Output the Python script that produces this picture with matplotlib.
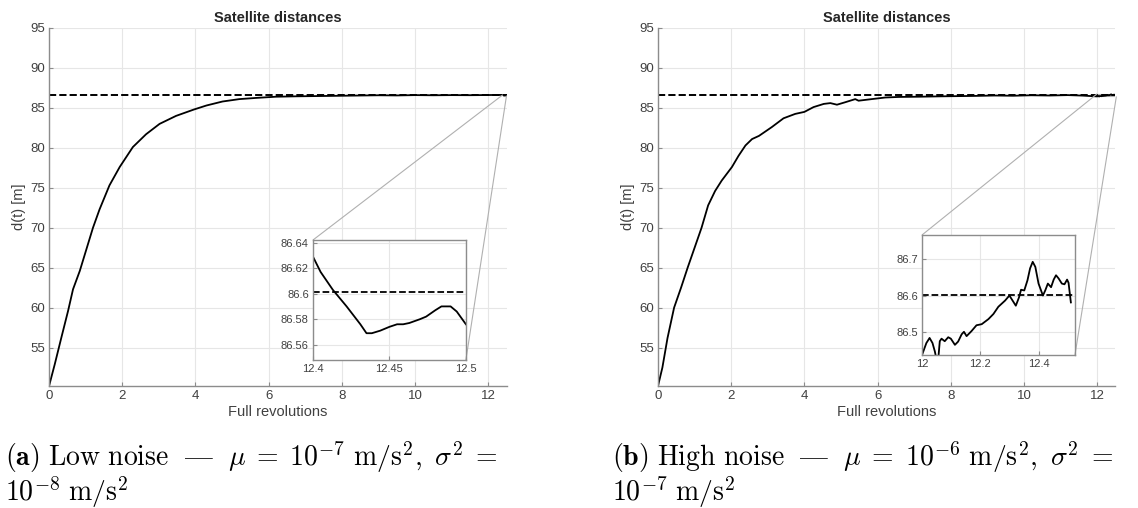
import numpy as np
import matplotlib
matplotlib.use('Agg')
import matplotlib.pyplot as plt
from matplotlib.ticker import FuncFormatter
from mpl_toolkits.axes_grid1.inset_locator import mark_inset

plt.rcParams['font.family'] = ['Liberation Sans', 'DejaVu Sans']
plt.rcParams['mathtext.fontset'] = 'cm'

# reference (true) distance
d_ref = 86.601

# low noise run: coarse trace + the zoomed tail
rev_low = [0, 0.155, 0.336, 0.52, 0.655, 0.84, 1.02, 1.2, 1.38, 1.65, 1.93,
           2.29, 2.65, 3.02, 3.47, 3.96, 4.3, 4.74, 5.2, 5.66, 6.2, 6.75,
           7.66, 8.5, 9.0, 9.5, 10.0, 10.5, 11.0, 11.5, 12.0]
dist_low = [50.2, 52.9, 56.25, 59.6, 62.3, 64.6, 67.3, 70.0, 72.3, 75.3, 77.6,
            80.1, 81.7, 83.0, 84.0, 84.8, 85.3, 85.8, 86.1, 86.25, 86.4, 86.45,
            86.5, 86.55, 86.58, 86.56, 86.6, 86.58, 86.6, 86.59, 86.61]
rev_low_zoom = [12.400, 12.405, 12.413, 12.422, 12.431, 12.435, 12.4385,
                12.444, 12.450, 12.455, 12.459, 12.463, 12.470, 12.474,
                12.480, 12.484, 12.490, 12.494, 12.500]
dist_low_zoom = [86.629, 86.617, 86.603, 86.590, 86.576, 86.569, 86.569,
                 86.571, 86.574, 86.576, 86.576, 86.577, 86.580, 86.582,
                 86.587, 86.590, 86.590, 86.586, 86.576]

# high noise run
rev_high = [0, 0.12, 0.26, 0.44, 0.63, 0.81, 1.0, 1.19, 1.37, 1.56, 1.74,
            2.02, 2.2, 2.39, 2.57, 2.76, 3.11, 3.43, 3.75, 4.0, 4.25, 4.53,
            4.71, 4.89, 5.11, 5.39, 5.48, 5.84, 6.21, 6.57, 7.12, 7.76, 8.67,
            9.2, 9.7, 10.2, 10.7, 11.2, 11.6]
dist_high = [50.2, 52.5, 56.2, 60.0, 62.5, 65.0, 67.5, 70.0, 72.8, 74.6, 75.9,
             77.6, 79.0, 80.3, 81.1, 81.5, 82.6, 83.7, 84.25, 84.5, 85.1, 85.5,
             85.6, 85.4, 85.7, 86.1, 85.9, 86.1, 86.3, 86.37, 86.4, 86.45, 86.5,
             86.55, 86.52, 86.58, 86.55, 86.6, 86.54]
rev_high_zoom = [12.000, 12.015, 12.026, 12.036, 12.044, 12.049, 12.056,
                 12.061, 12.067, 12.078, 12.090, 12.099, 12.113, 12.124,
                 12.136, 12.144, 12.153, 12.170, 12.187, 12.205, 12.228,
                 12.245, 12.262, 12.285, 12.300, 12.311, 12.322, 12.333,
                 12.340, 12.351, 12.362, 12.371, 12.380, 12.389, 12.400,
                 12.415, 12.423, 12.432, 12.443, 12.452, 12.460, 12.469,
                 12.480, 12.489, 12.498, 12.503, 12.511]
dist_high_zoom = [86.436, 86.469, 86.483, 86.469, 86.446, 86.427, 86.427,
                  86.474, 86.481, 86.474, 86.485, 86.481, 86.464, 86.473,
                  86.493, 86.500, 86.488, 86.502, 86.518, 86.521, 86.535,
                  86.549, 86.569, 86.586, 86.600, 86.586, 86.572, 86.595,
                  86.616, 86.614, 86.642, 86.675, 86.693, 86.679, 86.633,
                  86.600, 86.614, 86.633, 86.623, 86.644, 86.656, 86.647,
                  86.633, 86.631, 86.644, 86.635, 86.581]

y_ticks = [55, 60, 65, 70, 75, 80, 85, 90, 95]
x_ticks = [0, 2, 4, 6, 8, 10, 12]

captions = [
    (r'$\mathbf{(a)}\ \mathrm{Low\ noise}\ \ \mathrm{—}\ \ \mu \;=\; 10^{-7}\ \mathrm{m/s^2},\ \sigma^2 \;=$',
     r'$10^{-8}\ \mathrm{m/s^2}$'),
    (r'$\mathbf{(b)}\ \mathrm{High\ noise}\ \ \mathrm{—}\ \ \mu \;=\; 10^{-6}\ \mathrm{m/s^2},\ \sigma^2 \;=$',
     r'$10^{-7}\ \mathrm{m/s^2}$'),
]

TXT = '#404040'
SPINE = '#8c8c8c'
GRID = '#e6e6e6'


def style_axes(ax, size, box):
    for side in ['top', 'right']:
        ax.spines[side].set_visible(box)
    for sp in ax.spines.values():
        sp.set_color(SPINE)
        sp.set_linewidth(1.0)
    ax.tick_params(direction='in', colors=SPINE, labelcolor=TXT,
                   labelsize=size, length=3, width=0.8, pad=3)
    ax.grid(True, color=GRID, linewidth=0.8)
    ax.set_axisbelow(True)


fmt = FuncFormatter(lambda v, p: ('%.4f' % v).rstrip('0').rstrip('.'))

fig = plt.figure(figsize=(11.38, 5.08), dpi=100)

panels = [
    (rev_low, dist_low, rev_low_zoom, dist_low_zoom, 0.0431, 0.2750,
     (12.4, 12.5), (86.548, 86.642), [12.4, 12.45, 12.5],
     [86.56, 86.58, 86.6, 86.62, 86.64], 0.2913),
    (rev_high, dist_high, rev_high_zoom, dist_high_zoom, 0.5782, 0.8102,
     (12.0, 12.525), (86.436, 86.767), [12.0, 12.2, 12.4],
     [86.5, 86.6, 86.7], 0.3012),
]

for i, (rv, dv, rz, dz, left, ileft, ixl, iyl, ixt, iyt, ibot) in enumerate(panels):
    ax = fig.add_axes([left, 0.2402, 0.4020, 0.7047])
    x = np.concatenate([rv, rz])
    y = np.concatenate([dv, dz])
    ax.plot(x, y, color='black', linewidth=1.3)
    ax.axhline(d_ref, color='black', linestyle='--', linewidth=1.4)
    ax.set_xlim(0, 12.5)
    ax.set_ylim(dv[0], 95)
    ax.set_xticks(x_ticks)
    ax.set_yticks(y_ticks)
    style_axes(ax, 9.5, False)
    ax.set_title('Satellite distances', fontsize=10.5, fontweight='bold',
                 color='#262626', pad=4)
    ax.set_xlabel('Full revolutions', fontsize=10.5, color=TXT, labelpad=2)
    ax.set_ylabel('d(t) [m]', fontsize=10.5, color=TXT, labelpad=3)

    axins = fig.add_axes([ileft, ibot, 0.1344, 0.2362])
    axins.plot(rz, dz, color='black', linewidth=1.3)
    axins.axhline(d_ref, color='black', linestyle='--', linewidth=1.3)
    axins.set_xlim(*ixl)
    axins.set_ylim(*iyl)
    axins.set_xticks(ixt)
    axins.set_yticks(iyt)
    axins.xaxis.set_major_formatter(fmt)
    axins.yaxis.set_major_formatter(fmt)
    style_axes(axins, 8, True)
    axins.set_facecolor('white')
    mark_inset(ax, axins, loc1=2, loc2=4, fc='none', ec='#b0b0b0', lw=0.8)

    cx = 0.004 if i == 0 else 0.538
    fig.text(cx, 0.083, captions[i][0], fontsize=20, color='black',
             ha='left', va='baseline')
    fig.text(cx, 0.014, captions[i][1], fontsize=20, color='black',
             ha='left', va='baseline')

fig.savefig('out.png', dpi=100)
